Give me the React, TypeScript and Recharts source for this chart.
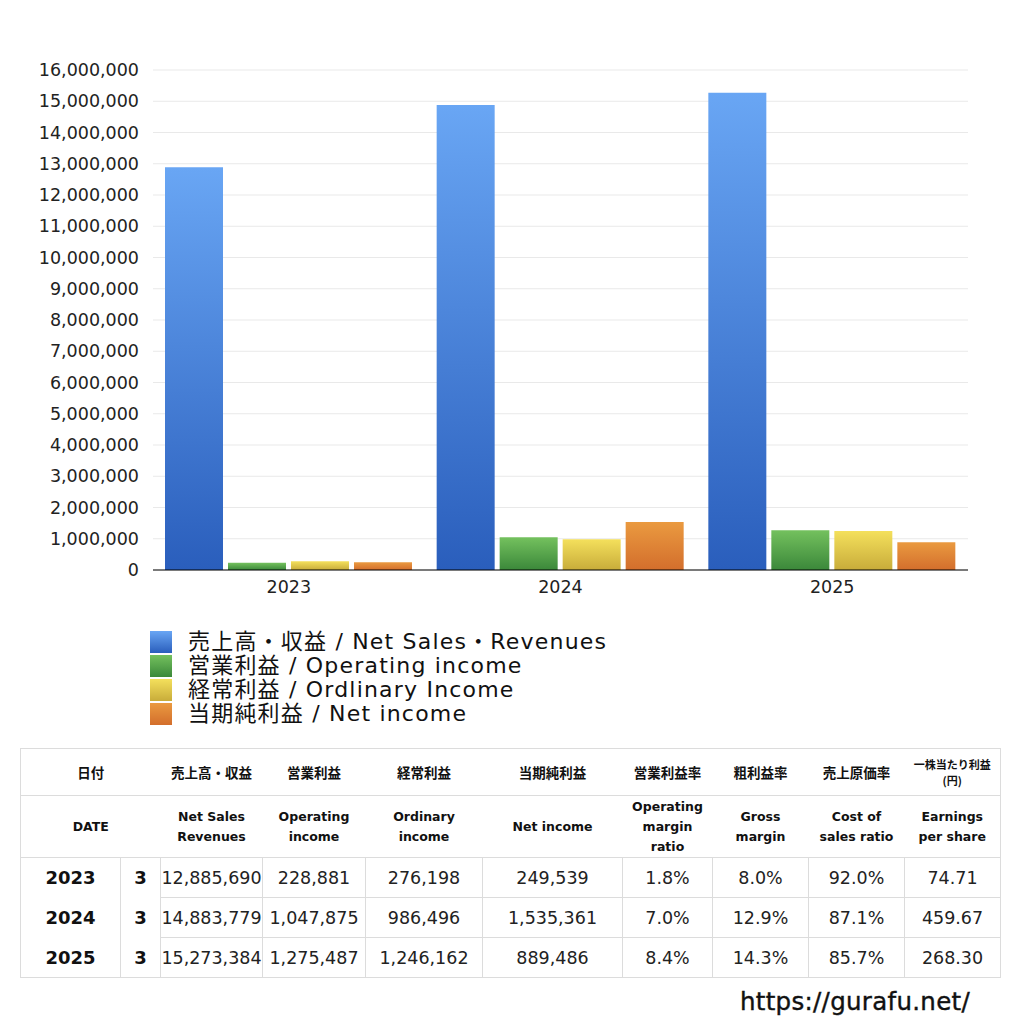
import React from 'react';
import { BarChart, Bar, XAxis, YAxis, CartesianGrid } from 'recharts';

const years = ['2023', '2024', '2025'];
const months = ['3', '3', '3'];
const netSales = [12885690, 14883779, 15273384];
const operatingIncome = [228881, 1047875, 1275487];
const ordinaryIncome = [276198, 986496, 1246162];
const netIncome = [249539, 1535361, 889486];
const operatingMargin = ['1.8%', '7.0%', '8.4%'];
const grossMargin = ['8.0%', '12.9%', '14.3%'];
const costRatio = ['92.0%', '87.1%', '85.7%'];
const eps = ['74.71', '459.67', '268.30'];
const yTicks = [0, 1000000, 2000000, 3000000, 4000000, 5000000, 6000000, 7000000, 8000000, 9000000, 10000000, 11000000, 12000000, 13000000, 14000000, 15000000, 16000000];

const seriesNames = [
  '売上高・収益 / Net Sales・Revenues',
  '営業利益 / Operating income',
  '経常利益 / Ordlinary Income',
  '当期純利益 / Net income',
];
const headJa = ['日付', '売上高・収益', '営業利益', '経常利益', '当期純利益', '営業利益率', '粗利益率', '売上原価率', '一株当たり利益\n(円)'];
const headEn = ['DATE', 'Net Sales\nRevenues', 'Operating\nincome', 'Ordinary\nincome', 'Net income', 'Operating\nmargin\nratio', 'Gross\nmargin', 'Cost of\nsales ratio', 'Earnings\nper share'];

const grads = [
  { id: 'gBlue', top: '#69a6f4', bottom: '#2a5ebc' },
  { id: 'gGreen', top: '#74c15e', bottom: '#3b883a' },
  { id: 'gYellow', top: '#f4e05c', bottom: '#c8ac3a' },
  { id: 'gOrange', top: '#ea9a40', bottom: '#d36e2c' },
];

const data = years.map((y, i) => ({
  year: y,
  sales: netSales[i],
  op: operatingIncome[i],
  ord: ordinaryIncome[i],
  net: netIncome[i],
}));

const FONT = '"DejaVu Sans", "Noto Sans CJK JP", sans-serif';
const JFONT = '"Noto Sans CJK JP", sans-serif';
const fmt = (v: number) => v.toLocaleString('en-US');

const colW = [100, 40, 102, 103, 117, 140, 90, 96, 96, 96];
const border = '1px solid #dcdcdc';

export default function App() {
  return (
    <div style={{ position: 'absolute', left: 0, top: 0, width: 1024, height: 1024, background: '#fff', fontFamily: FONT, color: '#111' }}>
      <div style={{ position: 'absolute', left: 0, top: 0 }}>
        <BarChart
          width={1024}
          height={610}
          data={data}
          margin={{ top: 70, right: 56, left: 0, bottom: 0 }}
          barCategoryGap={12}
          barGap={5}
        >
          <defs>
            {grads.map((g) => (
              <linearGradient key={g.id} id={g.id} x1="0" y1="0" x2="0" y2="1">
                <stop offset="0%" stopColor={g.top} />
                <stop offset="100%" stopColor={g.bottom} />
              </linearGradient>
            ))}
          </defs>
          <CartesianGrid vertical={false} stroke="#e9e9e9" />
          <XAxis
            dataKey="year"
            axisLine={{ stroke: '#000' }}
            tickLine={false}
            tickMargin={5}
            height={40}
            tick={{ fill: '#222', fontSize: 17.5, fontFamily: FONT }}
          />
          <YAxis
            width={153}
            domain={[0, 16000000]}
            ticks={yTicks}
            interval={0}
            axisLine={false}
            tickLine={false}
            tickSize={0}
            tickMargin={14}
            tickFormatter={fmt}
            tick={{ fill: '#222', fontSize: 17.5, fontFamily: FONT }}
          />
          <Bar dataKey="sales" fill="url(#gBlue)" isAnimationActive={false} />
          <Bar dataKey="op" fill="url(#gGreen)" isAnimationActive={false} />
          <Bar dataKey="ord" fill="url(#gYellow)" isAnimationActive={false} />
          <Bar dataKey="net" fill="url(#gOrange)" isAnimationActive={false} />
        </BarChart>
      </div>

      <div style={{ position: 'absolute', left: 150, top: 630 }}>
        {seriesNames.map((n, i) => (
          <div key={n} style={{ display: 'flex', alignItems: 'center', height: 24 }}>
            <div style={{ width: 22, height: 22, background: `linear-gradient(${grads[i].top}, ${grads[i].bottom})`, marginRight: 16, flexShrink: 0 }} />
            <span style={{ fontSize: 22, letterSpacing: 1.2, lineHeight: '24px', color: '#111', whiteSpace: 'nowrap' }}>{n}</span>
          </div>
        ))}
      </div>

      <table
        style={{
          position: 'absolute',
          left: 20,
          top: 748,
          width: 980,
          borderCollapse: 'collapse',
          tableLayout: 'fixed',
          fontFamily: FONT,
          border: border,
        }}
      >
        <colgroup>
          {colW.map((w, i) => (
            <col key={i} style={{ width: w }} />
          ))}
        </colgroup>
        <tbody>
          <tr style={{ height: 47, borderBottom: border }}>
            {headJa.map((h, i) => (
              <td key={i} colSpan={i === 0 ? 2 : 1} style={{ textAlign: 'center', fontWeight: 700, fontFamily: JFONT, fontSize: h.includes('\n') ? 11 : 13.5, whiteSpace: 'pre-line', lineHeight: h.includes('\n') ? '16px' : '18px', padding: 0, color: '#111' }}>
                {h}
              </td>
            ))}
          </tr>
          <tr style={{ height: 62, borderBottom: border }}>
            {headEn.map((h, i) => (
              <td key={i} colSpan={i === 0 ? 2 : 1} style={{ textAlign: 'center', fontWeight: 700, fontSize: 12.5, whiteSpace: 'pre-line', lineHeight: '20px', padding: 0, color: '#111' }}>
                {h}
              </td>
            ))}
          </tr>
          {years.map((y, i) => {
            const cells = [
              fmt(netSales[i]),
              fmt(operatingIncome[i]),
              fmt(ordinaryIncome[i]),
              fmt(netIncome[i]),
              operatingMargin[i],
              grossMargin[i],
              costRatio[i],
              eps[i],
            ];
            return (
              <tr key={y} style={{ height: 40 }}>
                <td style={{ textAlign: 'center', fontWeight: 700, fontSize: 18, padding: 0, borderBottom: i < 2 ? 'none' : border, borderRight: border }}>{y}</td>
                <td style={{ textAlign: 'center', fontWeight: 700, fontSize: 18, padding: 0, borderBottom: i < 2 ? 'none' : border, borderRight: border }}>{months[i]}</td>
                {cells.map((c, j) => (
                  <td key={j} style={{ textAlign: 'center', fontSize: 17.5, padding: 0, border: border, whiteSpace: 'nowrap', overflow: 'visible', color: '#222' }}>
                    {c}
                  </td>
                ))}
              </tr>
            );
          })}
        </tbody>
      </table>

      <div style={{ position: 'absolute', right: 54, top: 987, fontSize: 24.5, letterSpacing: 0.3, color: '#111', fontFamily: FONT, WebkitTextStroke: '0.4px #111' }}>
        https://gurafu.net/
      </div>
    </div>
  );
}
